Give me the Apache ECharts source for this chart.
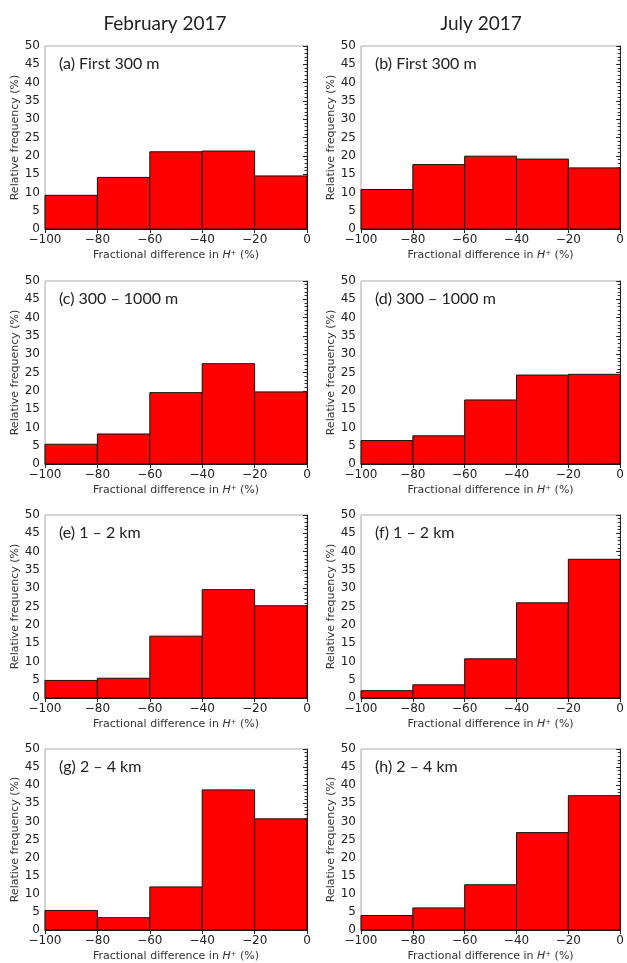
<!DOCTYPE html>
<html>
<head>
<meta charset="utf-8">
<script src="https://cdn.jsdelivr.net/npm/echarts@6/dist/echarts.min.js"></script>
<style>
  html, body { margin: 0; padding: 0; background: #fff; }
  #main { width: 627px; height: 963px; }
</style>
</head>
<body>
<div id="main"></div>
<script>
// histogram bin edges (fractional difference, %)
var binEdges = [-100, -80, -60, -40, -20, 0];

// relative frequency (%) per bin
var febFirst300 = [9.2, 14.1, 21.1, 21.3, 14.5];
var julFirst300 = [10.8, 17.6, 19.9, 19.1, 16.7];
var feb300to1000 = [5.4, 8.2, 19.5, 27.4, 19.7];
var jul300to1000 = [6.4, 7.7, 17.5, 24.3, 24.5];
var feb1to2 = [4.8, 5.4, 16.9, 29.6, 25.2];
var jul1to2 = [2.0, 3.6, 10.7, 26.0, 37.9];
var feb2to4 = [5.4, 3.4, 11.9, 38.7, 30.7];
var jul2to4 = [4.0, 6.1, 12.5, 26.9, 37.1];

var columnTitles = ['February 2017', 'July 2017'];
var panelLabels = ['(a) First 300 m', '(b) First 300 m', '(c) 300 – 1000 m', '(d) 300 – 1000 m',
                   '(e) 1 – 2 km', '(f) 1 – 2 km', '(g) 2 – 4 km', '(h) 2 – 4 km'];
var panelData = [febFirst300, julFirst300, feb300to1000, jul300to1000, feb1to2, jul1to2, feb2to4, jul2to4];

var tickFont = 'DejaVu Sans';
var textFont = 'Lato';

var colLeft = [45, 361];
var rowTop = [46, 281, 515, 749];
var gw = 262, gh = 183;

function binItems(vals) {
    var out = [];
    for (var i = 0; i < vals.length; i++) {
        out.push([binEdges[i], binEdges[i + 1], vals[i]]);
    }
    return out;
}

function renderBin(params, api) {
    var p0 = api.coord([api.value(0), 0]);
    var p1 = api.coord([api.value(1), api.value(2)]);
    return {
        type: 'rect',
        shape: { x: p0[0], y: p1[1], width: p1[0] - p0[0], height: p0[1] - p1[1] },
        style: { fill: '#ff0000', stroke: '#111', lineWidth: 1 }
    };
}

var grids = [], xAxes = [], yAxes = [], series = [], titles = [];

columnTitles.forEach(function (t, c) {
    titles.push({
        text: t, left: c === 0 ? 160 : 476, top: 9, textAlign: 'center',
        textStyle: { fontFamily: textFont, fontSize: 19, fontWeight: 'normal', color: '#222' }
    });
});

for (var k = 0; k < 8; k++) {
    var r = Math.floor(k / 2), c = k % 2;
    grids.push({
        left: colLeft[c], top: rowTop[r], width: gw, height: gh,
        show: true, borderColor: '#aaa', borderWidth: 1, backgroundColor: '#fff'
    });
    xAxes.push({
        gridIndex: k, type: 'value', min: -100, max: 0, interval: 20,
        name: 'Fractional difference in {it|H}{sup|+} (%)',
        nameLocation: 'middle', nameGap: 21,
        nameTextStyle: {
            fontFamily: tickFont, fontSize: 11, color: '#333',
            rich: {
                it: { fontFamily: tickFont, fontSize: 11, fontStyle: 'italic', color: '#333' },
                sup: { fontFamily: tickFont, fontSize: 7, verticalAlign: 'top', color: '#333' }
            }
        },
        axisLine: { show: true, onZero: false, lineStyle: { color: '#222', width: 1 } },
        axisTick: { show: true, length: 4, lineStyle: { color: '#222' } },
        axisLabel: {
            fontFamily: tickFont, fontSize: 12, color: '#222', margin: 5,
            formatter: function (v) { return v < 0 ? '\u2212' + Math.abs(v) : String(v); }
        },
        splitLine: { show: false }
    });
    yAxes.push({
        gridIndex: k, type: 'value', min: 0, max: 50, interval: 5,
        name: 'Relative frequency (%)', nameLocation: 'middle', nameGap: 23,
        nameTextStyle: { fontFamily: tickFont, fontSize: 11, color: '#333' },
        axisLine: { show: true, lineStyle: { color: '#222', width: 1 } },
        axisTick: { show: true, length: 4, lineStyle: { color: '#222' } },
        minorTick: { show: true, splitNumber: 5, length: 2.5, lineStyle: { color: '#333', width: 1 } },
        axisLabel: { fontFamily: tickFont, fontSize: 12, color: '#222', margin: 5 },
        splitLine: { show: false }
    });
    series.push({
        type: 'custom', xAxisIndex: k, yAxisIndex: k,
        renderItem: renderBin,
        encode: { x: [0, 1], y: 2 },
        data: binItems(panelData[k]),
        silent: true
    });
    titles.push({
        text: panelLabels[k], left: colLeft[c] + 9, top: rowTop[r] + 5,
        textStyle: { fontFamily: textFont, fontSize: 16, fontWeight: 'normal', color: '#222' }
    });
}

var myChart = echarts.init(document.getElementById('main'));
myChart.setOption({
    animation: false,
    backgroundColor: '#fff',
    title: titles,
    grid: grids,
    xAxis: xAxes,
    yAxis: yAxes,
    series: series
});
</script>
</body>
</html>
